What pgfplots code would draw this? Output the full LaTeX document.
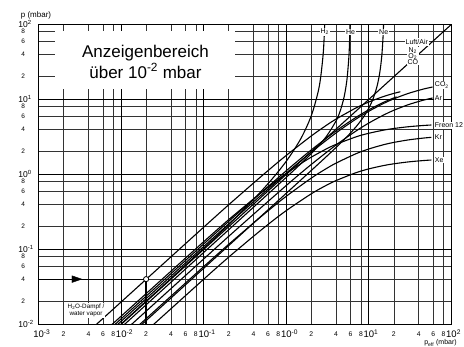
\documentclass[border=0pt]{standalone}
\usepackage{fontspec}
\setmainfont{Liberation Sans}
\usepackage{pgfplots}
\pgfplotsset{compat=1.18}
\begin{document}
\begin{tikzpicture}
\begin{axis}[
  xmode=log, ymode=log,
  scale only axis, width=412.8pt, height=300pt,
  xmin=1e-3, xmax=100, ymin=1e-2, ymax=100,
  axis line style={line width=1pt},
  clip mode=individual,
  major tick length=0pt, minor tick length=0pt,
  xminorticks=false, yminorticks=false,
  xtick={0.002,0.004,0.006,0.008,0.02,0.04,0.06,0.08,0.2,0.4,0.6,0.8,2,4,6,8,20,40,60,80},
  xticklabels={2,4,6,8,2,4,6,8,2,4,6,8,2,4,6,8,2,4,6,8},
  ytick={0.02,0.04,0.06,0.08,0.2,0.4,0.6,0.8,2,4,6,8,20,40,60,80},
  yticklabels={2,4,6,8,2,4,6,8,2,4,6,8,2,4,6,8},
  extra x ticks={0.001,0.01,0.1,1,10,100},
  extra x tick labels={10\rlap{\textsuperscript{-3}},10\rlap{\textsuperscript{-2}},10\rlap{\textsuperscript{-1}},10\rlap{\textsuperscript{-0}},10\rlap{\textsuperscript{1}},10\rlap{\textsuperscript{2}}},
  extra y ticks={0.01,0.1,1,10,100},
  extra y tick labels={10\rlap{\textsuperscript{-2}},10\rlap{\textsuperscript{-1}},10\rlap{\textsuperscript{0}},10\rlap{\textsuperscript{1}},10\rlap{\textsuperscript{2}}},
  grid=major,
  major grid style={line width=0.55pt, black!80},
  xticklabel style={font=\fontsize{6.8}{7}\selectfont, anchor=center, yshift=-9.5pt},
  yticklabel style={font=\fontsize{6.5}{7}\selectfont, anchor=center, xshift=-15.5pt},
  extra x tick style={xticklabel style={font=\fontsize{9.5}{10}\selectfont}, major grid style={line width=0.9pt, black}},
  extra y tick style={yticklabel style={font=\fontsize{8.5}{9}\selectfont}, major grid style={line width=0.9pt, black}},
]
\coordinate (sw) at (rel axis cs:0,0);
\coordinate (ne) at (rel axis cs:1,1);
% white box for the title
\fill[white] (axis cs:0.00157,13.7) rectangle (axis cs:0.238,82);
\node[font=\fontsize{17}{21}\selectfont, align=center] at (axis cs:0.01965,31.9) {Anzeigenbereich\\über 10\textsuperscript{-2} mbar};

% Luft/Air, N2, O2, CO
\addplot[line width=1.1pt] coordinates {(0.001,0.001) (100,100)};
% CO2
\addplot[line width=1.1pt, smooth] coordinates {(0.001,0.0011) (0.01,0.011) (0.1,0.1094) (0.3,0.3243) (1,1.039) (2,1.970) (4,3.566) (7,5.463) (10,6.94) (15,8.79) (20,10.14) (30,11.98) (45,13.63) (59,14.58)};
% Ar
\addplot[line width=1.1pt, smooth] coordinates {(0.001,0.00075) (0.1,0.0746) (0.3,0.2213) (1,0.7108) (2,1.351) (4,2.458) (7,3.788) (10,4.834) (15,6.157) (20,7.133) (30,8.478) (45,9.693) (59,10.40)};
% Freon 12
\addplot[line width=1.1pt, smooth] coordinates {(0.001,0.0013) (0.1,0.1266) (0.3,0.3609) (0.6,0.6717) (1,1.0248) (1.5,1.390) (2,1.691) (3,2.159) (4,2.507) (7,3.160) (10,3.527) (15,3.877) (20,4.080) (30,4.306) (45,4.470) (57,4.543)};
% Kr
\addplot[line width=1.1pt, smooth] coordinates {(0.001,0.0006) (0.1,0.05897) (0.3,0.1710) (0.6,0.3257) (1,0.5105) (2,0.8883) (3,1.179) (4,1.410) (7,1.885) (10,2.178) (15,2.478) (20,2.661) (30,2.874) (45,3.035) (57,3.109)};
% Xe
\addplot[line width=1.1pt, smooth] coordinates {(0.001,0.00041) (0.1,0.0400) (0.3,0.1145) (0.6,0.2143) (1,0.3288) (2,0.5488) (3,0.7065) (4,0.825) (7,1.052) (10,1.1816) (15,1.307) (20,1.380) (30,1.4625) (45,1.523) (57,1.550)};
% H2O
\addplot[line width=1.1pt, smooth] coordinates {(0.001,0.002) (0.1,0.1977) (0.3,0.5797) (0.6,1.121) (1,1.790) (2,3.241) (3,4.441) (4,5.449) (7,7.696) (10,9.217) (15,10.89) (20,11.98) (24,12.61)};
% further short curve
\addplot[line width=1.1pt, smooth] coordinates {(0.001,0.00119) (0.1,0.1182) (0.3,0.3503) (1,1.118) (2,2.110) (4,3.790) (7,5.753) (10,7.256) (15,9.107) (21.6,10.79)};
% H2
\addplot[line width=1.1pt, smooth] coordinates {(0.001,0.001) (0.1,0.1034) (0.3,0.3333) (0.6,0.75) (1,1.5) (1.5,3) (2,6) (2.4,12) (2.6,19.5) (2.8,42) (2.9,87) (2.93,125.6)};
% He
\addplot[line width=1.1pt, smooth] coordinates {(0.001,0.00091) (0.1,0.091) (1,0.9142) (2,1.890) (3,3.117) (4,5.159) (4.5,7.051) (5,10.70) (5.4,17.82) (5.7,35.0) (5.85,67.3) (5.95,174)};
% Ne
\addplot[line width=1.1pt, smooth] coordinates {(0.001,0.00056) (0.1,0.056) (1,0.56) (3,1.692) (5,2.897) (7,4.319) (9,6.269) (11,9.597) (12.5,14.75) (13.5,22.37) (14.3,37.56) (14.9,75.9) (15.2,154.5)};

% reading example
\addplot[line width=1.2pt] coordinates {(0.001,0.04) (0.02,0.04)};
\addplot[line width=1.8pt] coordinates {(0.02,0.04) (0.02,0.01)};
\addplot[only marks, mark=triangle*, mark size=6.5pt, mark options={rotate=-90, xscale=0.6, fill=black}] coordinates {(0.00277,0.04)};
\addplot[only marks, mark=*, mark size=2.6pt, mark options={fill=white, draw=black, line width=0.8pt}] coordinates {(0.02,0.04)};

% labels
\tikzset{lab/.style={fill=white, inner sep=1pt, font=\fontsize{7}{7.5}\selectfont}}
\node[lab] at (axis cs:2.92,79) {H\textsubscript{2}};
\node[lab] at (axis cs:6.0,79) {He};
\node[lab] at (axis cs:15.1,79) {Ne};
\node[lab] at (axis cs:38,58) {Luft/Air};
\node[lab, align=center, inner sep=0.5pt] at (axis cs:34,37.5) {N\textsubscript{2}\\[-1.2pt]O\textsubscript{2}\\[-1.2pt]CO};
\node[lab, anchor=west] at (axis cs:61,15.5) {CO\textsubscript{2}};
\node[lab, anchor=west] at (axis cs:61,10.4) {Ar};
\node[lab, anchor=west] at (axis cs:61,4.53) {Freon 12};
\node[lab, anchor=west] at (axis cs:61,3.14) {Kr};
\node[lab, anchor=west] at (axis cs:61,1.55) {Xe};
\node[lab, align=center, font=\fontsize{6.3}{7}\selectfont] at (axis cs:0.00374,0.0152) {H\textsubscript{2}O-Dampf /\\water vapor};
\end{axis}
\node[font=\fontsize{8}{9}\selectfont] at ([shift={(-2.7pt,9.3pt)}]sw |- ne) {p (mbar)};
\node[font=\fontsize{7}{8}\selectfont, inner sep=0pt] at ([shift={(-11pt,-18.8pt)}]ne |- sw) {p\textsubscript{eff} (mbar)};
\pgfresetboundingbox
\path[use as bounding box] ([shift={(-38.7pt,-22.7pt)}]sw) rectangle ([shift={(12.5pt,24.3pt)}]ne);
\end{tikzpicture}
\end{document}
